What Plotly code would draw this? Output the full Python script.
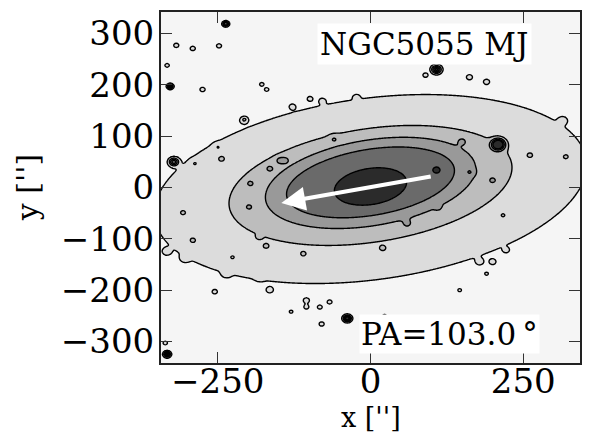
import numpy as np
import plotly.graph_objects as go

# ---- isophote model (outer -> inner) ----
iso_semi_major = [358, 235, 175, 140, 60]      # arcsec
iso_semi_minor = [176, 110, 83, 64, 35]        # arcsec
iso_angle_deg = [10, 11, 12, 12, 12]           # tilt of each isophote on the sky image
iso_center_y = [-3, 4, 9, 10, 2]
iso_fill_colors = ["#f5f5f5", "#dcdcdc", "#bdbdbd", "#999999", "#6a6a6a", "#2b2b2b"]
galaxy_pa_deg = 103.0

# ---- compact sources and knots (x, y, peak, sigma) ----
src_x = [209, 108, -38, -322, -333, -328, -237,
         -318, -291, -248, -333, -275, -178, -170, -206, 90, -99, -23,
         -110, -80, 23, 222, -182, -171, -255, -336, 261, -307, -199,
         -208, -79, -128, -250, -244, -288, -165, -140, -197,
         190, 162, 315, 320, 200, 179, 200, 146, 190, 217, 20,
         -334, -304, -236, -181, -165, -105, -105, -83, -67, -130, -291, -226,
         -148, 108, 163, 110, -60, 60, 150]
src_y = [84, 230, -255, 50, -325, 197, 319,
         277, 271, 276, 238, 191, 201, 191, 133, 219, 173, 176,
         -129, -266, -251, -122, -96, -114, -203, -303, 63, -49, -38,
         131, 169, 158, 79, 56, 47, 37, 53, 8,
         206, 215, 131, 60, 14, -145, -145, -200, -168, -54, -118,
         -125, -138, -168, -174, -200, -220, -233, -233, -223, -242, -103, -136,
         53, 34, 30, -38, 95, -70, 90]
src_peak = [6, 5, 6, 4, 5, 5, 5,
            1, 1, 1, 1, 1, 1, 1, 1, 1, 1, 1,
            1, 1, 1, 1, 1, 1, 1, 1, 1, 1, 1,
            0.8, 0.8, 0.8, 0.8, 0.8, 0.8, 1, 1, 1,
            0.8, 0.8, 0.8, 0.8, 1, 0.8, 0.8, 0.8, 0.8, 0.8, 1,
            0.8, 0.8, 0.8, 0.8, 0.8, 0.8, 0.8, 0.8, 0.8, 0.8, 0.8, 0.8,
            1, 1, 0.8, 1, 0.7, 0.7, 0.7]
src_sigma = [7, 5, 4, 5, 3.5, 3, 3,
             3.5, 3.5, 3.5, 3, 3.5, 3, 3, 3.5, 3.5, 3.5, 3.5,
             3.5, 3.5, 3, 3.5, 3.5, 3.5, 3.5, 3, 3.5, 3.5, 3.5,
             5, 4, 4, 5, 5, 5, 4, 4, 4,
             5, 5, 5, 5, 4, 5, 5, 3, 3, 3, 4,
             5, 5, 5, 5, 5, 5, 4, 4, 4, 3, 5, 3,
             5, 5, 5, 4, 6, 6, 6]

arrow_tail = [101, 22]
arrow_head = [-146, -30]

x_ticks = [-250, 0, 250]
y_ticks = [-300, -200, -100, 0, 100, 200, 300]
x_range = [-343, 343]
y_range = [-342, 342]

label_name = "NGC5055 MJ"
label_pa = "PA=103.0\u2009°"
x_title = "x ['']"
y_title = "y ['']"

# ---- build the image from the model ----
xs = np.arange(-346, 347, 2.0)
ys = np.arange(-346, 347, 2.0)
X, Y = np.meshgrid(xs, ys)
Z = np.zeros_like(X)
for a, b, ang, cy in zip(iso_semi_major, iso_semi_minor, iso_angle_deg, iso_center_y):
    th = np.deg2rad(ang)
    Xr = X * np.cos(th) + (Y - cy) * np.sin(th)
    Yr = -X * np.sin(th) + (Y - cy) * np.cos(th)
    r = np.sqrt((Xr / a) ** 2 + (Yr / b) ** 2)
    Z += 1.0 / (1.0 + np.exp(-(1.0 - r) * 25.0))
for sx, sy, pk, sg in zip(src_x, src_y, src_peak, src_sigma):
    Z += pk * np.exp(-((X - sx) ** 2 + (Y - sy) ** 2) / (2.0 * sg ** 2))
Z = np.round(Z, 3)

n = len(iso_fill_colors)
colorscale = [[i / (n - 1), c] for i, c in enumerate(iso_fill_colors)]

fig = go.Figure()
fig.add_trace(go.Contour(
    x=xs, y=ys, z=Z,
    zmin=0, zmax=n - 1,
    colorscale=colorscale,
    contours=dict(start=0.5, end=n - 1.5, size=1, coloring="fill"),
    line=dict(color="black", width=1.4),
    showscale=False, hoverinfo="skip",
))

fig.add_annotation(
    x=arrow_head[0], y=arrow_head[1], ax=arrow_tail[0], ay=arrow_tail[1],
    xref="x", yref="y", axref="x", ayref="y",
    showarrow=True, arrowhead=2, arrowsize=1.2, arrowwidth=4, arrowcolor="white",
    text="",
)

fnt = "DejaVu Serif"
fig.add_annotation(x=89, y=279, xref="x", yref="y", text=label_name, showarrow=False,
                   font=dict(family=fnt, size=31, color="black"),
                   bgcolor="white", borderpad=2)
fig.add_annotation(x=130, y=-286, xref="x", yref="y", text=label_pa, showarrow=False,
                   font=dict(family=fnt, size=31, color="black"),
                   bgcolor="white", borderpad=1)

# axis titles
fig.add_annotation(x=0.501, y=-0.154, xref="paper", yref="paper", text=x_title, showarrow=False,
                   xanchor="center", yanchor="middle",
                   font=dict(family=fnt, size=27, color="black"))
fig.add_annotation(x=-0.318, y=0.5, xref="paper", yref="paper", text=y_title, showarrow=False,
                   xanchor="center", yanchor="middle", textangle=-90,
                   font=dict(family=fnt, size=30, color="black"))

axis_common = dict(
    showgrid=False, zeroline=False, showline=True, linecolor="#222", linewidth=2,
    mirror="allticks", ticks="inside", ticklen=11, tickwidth=1, tickcolor="#333",
    tickfont=dict(family=fnt, size=34, color="black"), automargin=False,
)
# the page body adds an 8 px offset, so the figure is 8 px smaller than the window
fig.update_layout(
    width=590, height=425,
    margin=dict(l=153, r=18, t=4, b=70),
    paper_bgcolor="white", plot_bgcolor="white",
    showlegend=False,
    xaxis=dict(range=x_range, tickvals=x_ticks, ticklabelstandoff=-13, **axis_common),
    yaxis=dict(range=y_range, tickvals=y_ticks, ticklabelstandoff=-2, **axis_common),
)

fig.write_html("out.html")
